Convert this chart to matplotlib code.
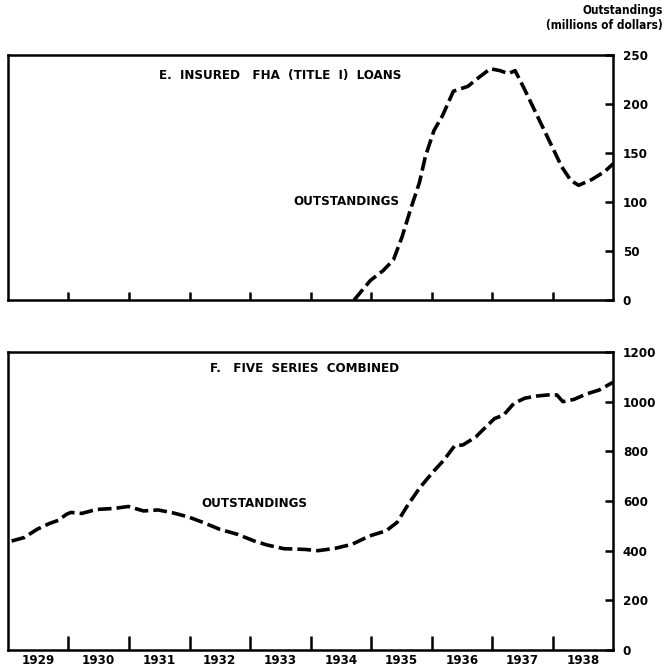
import matplotlib.pyplot as plt
from matplotlib import font_manager

# ------------------------------------------------------------
# Data
# ------------------------------------------------------------

# E. Insured FHA (Title I) loans, outstandings, millions of dollars
fha_years = [1934.72, 1934.99, 1935.2, 1935.37, 1935.51, 1935.65, 1935.8,
             1935.9, 1936.04, 1936.18, 1936.36, 1936.6, 1936.78, 1936.97,
             1937.13, 1937.27, 1937.38, 1937.52, 1937.73, 1937.94, 1938.15,
             1938.3, 1938.43, 1938.65, 1938.86, 1939.0]
fha_values = [0, 20, 30, 41, 64, 92, 120, 147, 173, 188, 213, 218, 227, 236,
              234, 231, 234, 217, 190, 163, 136, 122, 117, 123, 131, 139]

# F. Five series combined, outstandings, millions of dollars
comb_years = [1929.06, 1929.27, 1929.48, 1929.69, 1929.83, 1929.97, 1930.04,
              1930.22, 1930.46, 1930.75, 1930.99, 1931.24, 1931.48, 1931.73,
              1931.98, 1932.22, 1932.5, 1932.79, 1933.07, 1933.28, 1933.56,
              1933.91, 1934.12, 1934.4, 1934.69, 1934.97, 1935.25, 1935.43,
              1935.6, 1935.81, 1936.02, 1936.2, 1936.38, 1936.52, 1936.73,
              1936.9, 1937.04, 1937.19, 1937.36, 1937.54, 1937.75, 1937.92,
              1938.07, 1938.17, 1938.35, 1938.56, 1938.77, 1939.0]
comb_values = [439, 453, 486, 510, 522, 547, 554, 550, 566, 570, 578, 560,
               564, 552, 536, 514, 486, 466, 439, 423, 408, 405, 400, 409,
               426, 459, 480, 514, 581, 655, 716, 764, 822, 826, 858, 899,
               932, 946, 993, 1014, 1023, 1027, 1027, 1000, 1009, 1031, 1047,
               1078]

year_labels = ["1929", "1930", "1931", "1932", "1933",
               "1934", "1935", "1936", "1937", "1938"]
year_bounds = [1930, 1931, 1932, 1933, 1934, 1935, 1936, 1937, 1938]

fha_ticks = [0, 50, 100, 150, 200, 250]
comb_ticks = [0, 200, 400, 600, 800, 1000, 1200]

# ------------------------------------------------------------
# Style
# ------------------------------------------------------------

installed = {f.name for f in font_manager.fontManager.ttflist}
FONT = "Liberation Sans Narrow" if "Liberation Sans Narrow" in installed else "DejaVu Sans"
plt.rcParams["font.family"] = [FONT, "DejaVu Sans"]
plt.rcParams["font.weight"] = "bold"
plt.rcParams["font.stretch"] = "condensed"

FS = 9.5

LINE_KW = dict(color="black", linewidth=2.6, linestyle=(0, (3.8, 1.4)),
               solid_capstyle="butt", dash_capstyle="butt")


def style_axes(ax, ymax, yticks, tick_len):
    ax.set_xlim(1929, 1939)
    ax.set_ylim(0, ymax)
    for side in ["left", "right", "top", "bottom"]:
        ax.spines[side].set_linewidth(1.8)
    ax.yaxis.tick_right()
    ax.set_yticks(yticks)
    ax.tick_params(axis="y", direction="in", length=6, width=1.8,
                   labelsize=FS, pad=7)
    ax.set_xticks(year_bounds)
    ax.tick_params(axis="x", direction="in", length=tick_len, width=1.8,
                   labelbottom=False)


fig = plt.figure(figsize=(6.65, 6.72), dpi=100)

# Panel E
ax1 = fig.add_axes([0.012, 0.5536, 0.910, 0.3646])
ax1.plot(fha_years, fha_values, **LINE_KW)
style_axes(ax1, 250, fha_ticks, 6)
ax1.text(0.45, 0.915, "E.  INSURED   FHA  (TITLE  I)  LOANS",
         transform=ax1.transAxes, ha="center", va="center", fontsize=FS)
ax1.text(0.56, 0.40, "OUTSTANDINGS", transform=ax1.transAxes,
         ha="center", va="center", fontsize=FS)

# Panel F
ax2 = fig.add_axes([0.012, 0.0327, 0.910, 0.4435])
ax2.plot(comb_years, comb_values, **LINE_KW)
style_axes(ax2, 1200, comb_ticks, 10)
ax2.text(0.49, 0.945, "F.   FIVE  SERIES  COMBINED",
         transform=ax2.transAxes, ha="center", va="center", fontsize=FS)
ax2.text(0.407, 0.49, "OUTSTANDINGS", transform=ax2.transAxes,
         ha="center", va="center", fontsize=FS)

# year labels centred between the year boundaries
for i, lab in enumerate(year_labels):
    ax2.text(1929.5 + i, -0.012, lab, transform=ax2.get_xaxis_transform(),
             ha="center", va="top", fontsize=FS)

fig.text(0.997, 0.985, "Outstandings", ha="right", va="center",
         fontsize=8.5)
fig.text(0.997, 0.962, "(millions of dollars)", ha="right", va="center",
         fontsize=8.5)

fig.savefig("out.png", dpi=100)
